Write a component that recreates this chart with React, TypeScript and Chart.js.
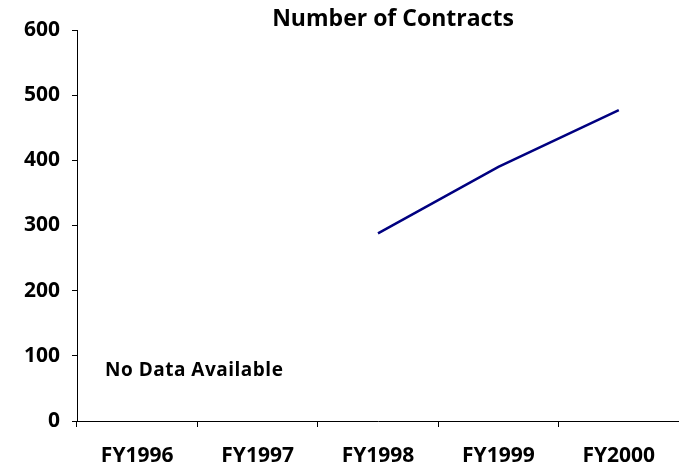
import React, { useEffect, useRef } from "react";
import { Chart, registerables } from "chart.js";

Chart.register(...registerables);

const categories = ["FY1996", "FY1997", "FY1998", "FY1999", "FY2000"];
const contracts = [null, null, 288, 390, 477];
const yTicks = [0, 100, 200, 300, 400, 500, 600];
const chartTitle = "Number of Contracts";
const noDataNote = "No Data Available";

const FONT = "'Open Sans', sans-serif";

export default function App() {
  const ref = useRef<HTMLCanvasElement | null>(null);

  useEffect(() => {
    document.body.style.margin = "0";
    const canvas = ref.current;
    if (!canvas) return;

    const textPlugin = {
      id: "texts",
      afterDraw(chart: any) {
        const ctx = chart.ctx;
        const area = chart.chartArea;
        const y = chart.scales.y;
        ctx.save();
        ctx.fillStyle = "#000";
        ctx.font = `bold 23px ${FONT}`;
        ctx.textAlign = "center";
        ctx.textBaseline = "alphabetic";
        ctx.fillText(chartTitle, 393, 26);
        ctx.font = `bold 19px ${FONT}`;
        (ctx as any).letterSpacing = "0.5px";
        ctx.textAlign = "left";
        ctx.textBaseline = "middle";
        ctx.fillText(noDataNote, area.left + 28, y.getPixelForValue(77));
        ctx.restore();
      },
    };

    const chart = new Chart(canvas, {
      type: "line",
      data: {
        labels: categories,
        datasets: [
          {
            data: contracts,
            borderColor: "#000080",
            borderWidth: 2.5,
            pointRadius: 0,
            tension: 0,
            spanGaps: false,
          },
        ],
      },
      options: {
        responsive: false,
        animation: false,
        layout: { padding: { top: 30, right: 0, left: 0, bottom: 0 } },
        plugins: {
          legend: { display: false },
          tooltip: { enabled: false },
          title: { display: false },
        },
        scales: {
          x: {
            offset: true,
            grid: {
              offset: true,
              drawOnChartArea: false,
              drawTicks: true,
              tickLength: 6,
              color: "#000",
            },
            border: { display: true, color: "#000", width: 1 },
            ticks: {
              color: "#000",
              font: { family: FONT, weight: "bold", size: 21 },
              padding: 16,
              maxRotation: 0,
            },
            afterFit(scale: any) {
              scale.height = 48;
            },
          },
          y: {
            min: 0,
            max: 600,
            afterBuildTicks(scale: any) {
              scale.ticks = yTicks.map((v) => ({ value: v }));
            },
            grid: {
              drawOnChartArea: false,
              drawTicks: true,
              tickLength: 5,
              color: "#000",
            },
            border: { display: true, color: "#000", width: 1 },
            ticks: {
              color: "#000",
              font: { family: FONT, weight: "bold", size: 21 },
              padding: 12,
            },
            afterFit(scale: any) {
              scale.width = 77;
            },
          },
        },
      },
      plugins: [textPlugin],
    } as any);

    return () => chart.destroy();
  }, []);

  return <canvas ref={ref} width={679} height={469} style={{ display: "block" }} />;
}
